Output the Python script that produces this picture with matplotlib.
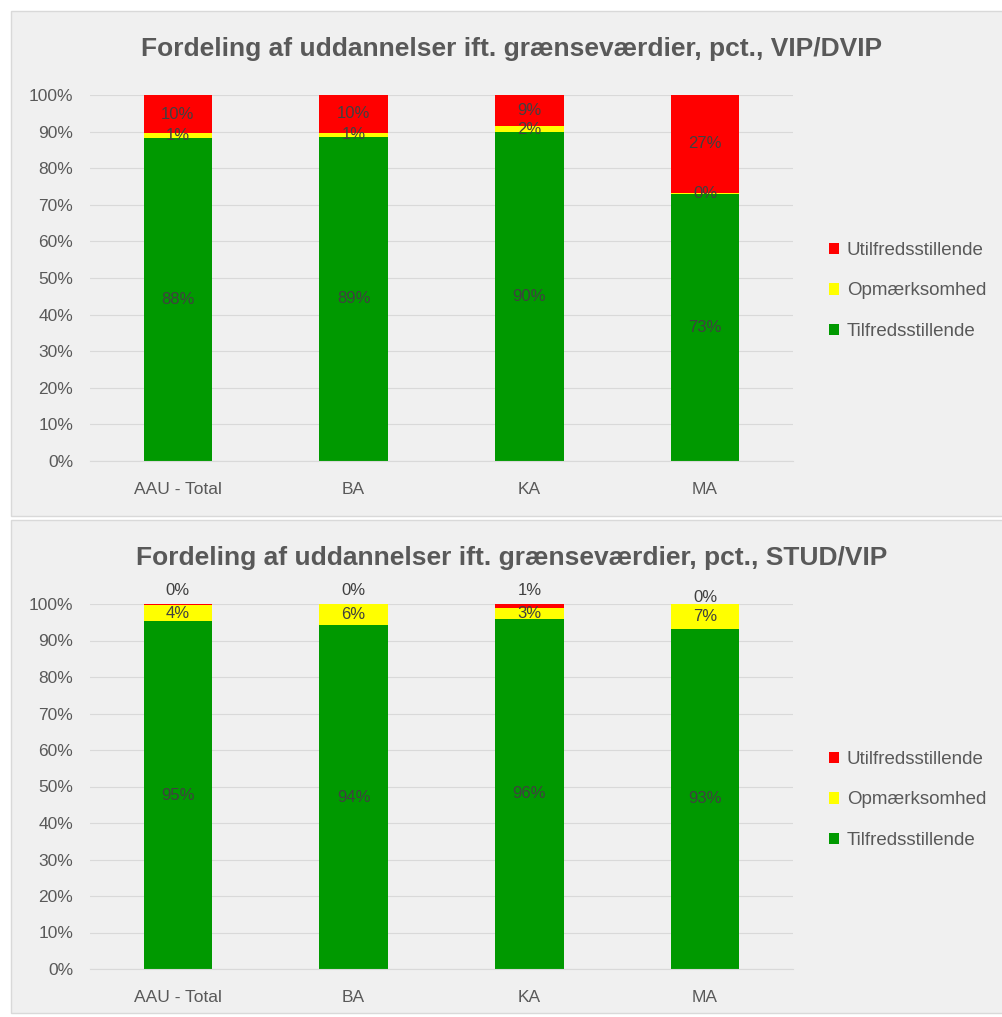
import matplotlib.pyplot as plt
from matplotlib.patches import Rectangle
import numpy as np

categories = ['AAU - Total', 'BA', 'KA', 'MA']
series = ['Tilfredsstillende', 'Opmærksomhed', 'Utilfredsstillende']
colors = ['#009900', '#FFFF00', '#FF0000']

# VIP/DVIP (pct.)
vip_green = [88.2, 88.6, 89.8, 73.0]
vip_yellow = [1.4, 1.1, 1.6, 0.3]
vip_red = [10.4, 10.3, 8.6, 26.7]

# STUD/VIP (pct.)
stud_green = [95.3, 94.2, 95.9, 93.2]
stud_yellow = [4.3, 5.8, 3.0, 6.8]
stud_red = [0.4, 0.0, 1.1, 0.0]

titles = ['Fordeling af uddannelser ift. grænseværdier, pct., VIP/DVIP',
          'Fordeling af uddannelser ift. grænseværdier, pct., STUD/VIP']

W, H = 1003, 1017
fig = plt.figure(figsize=(W / 100, H / 100), dpi=100)
fig.patch.set_facecolor('white')

txt = '#404040'
plt.rcParams['font.family'] = ['Liberation Sans', 'DejaVu Sans']

# panel boxes (pixel coords: x0, y0, x1, y1)
panels = [(11, 11, 1003, 516), (11, 520, 1003, 1013)]
for x0, y0, x1, y1 in panels:
    fig.patches.append(Rectangle((x0 / W, 1 - y1 / H), (x1 - x0) / W, (y1 - y0) / H,
                                 transform=fig.transFigure, facecolor='#F0F0F0',
                                 edgecolor='#D9D9D9', linewidth=1, zorder=-5))

axes_px = [(90, 95, 793, 461), (90, 604, 793, 969)]
title_y = [49, 558]
legend_y = [291, 800]
data = [(vip_green, vip_yellow, vip_red), (stud_green, stud_yellow, stud_red)]

x = np.arange(len(categories))
width = 0.39

for i, (l, t, r, b) in enumerate(axes_px):
    ax = fig.add_axes([l / W, 1 - b / H, (r - l) / W, (b - t) / H])
    ax.set_zorder(1)
    ax.set_facecolor('none')
    green, yellow, red = data[i]
    bottom = np.zeros(len(categories))
    handles = []
    for j, vals in enumerate([green, yellow, red]):
        vals = np.array(vals)
        bars = ax.bar(x, vals, width, bottom=bottom, color=colors[j], label=series[j], zorder=2)
        handles.append(bars)
        for k in range(len(categories)):
            cy = bottom[k] + vals[k] / 2
            lab = f'{round(vals[k])}%'
            if i == 1 and j == 2:
                off = -1 if k == 3 else 4
                ax.annotate(lab, (x[k], bottom[k] + vals[k]), xytext=(0, off),
                            textcoords='offset points', ha='center', va='bottom',
                            fontsize=12, color=txt, zorder=3)
            else:
                ax.text(x[k], cy, lab, ha='center', va='center', fontsize=12,
                        color=txt, zorder=3)
        bottom = bottom + vals
    ax.set_xlim(-0.5, 3.5)
    ax.set_ylim(0, 100)
    ax.set_yticks(np.arange(0, 101, 10))
    ax.set_yticklabels([f'{v}%' for v in range(0, 101, 10)])
    ax.set_xticks(x)
    ax.set_xticklabels(categories)
    ax.tick_params(axis='both', length=0, labelsize=12.5, labelcolor='#595959')
    ax.tick_params(axis='y', pad=12)
    ax.tick_params(axis='x', pad=15)
    ax.grid(axis='y', color='#D9D9D9', linewidth=0.8, zorder=0)
    for s in ax.spines.values():
        s.set_visible(False)
    ax.spines['bottom'].set_visible(True)
    ax.spines['bottom'].set_color('#D9D9D9')

    fig.text(512 / W, 1 - title_y[i] / H, titles[i], ha='center', va='center',
             fontsize=19, fontweight='bold', color='#595959')

    fig.legend(handles[::-1], series[::-1], loc='center left',
               bbox_to_anchor=(812 / W, 1 - legend_y[i] / H), frameon=False,
               fontsize=13.5, labelcolor='#595959', handlelength=0.55,
               handleheight=0.55, handletextpad=0.4, labelspacing=1.25)

fig.savefig('out.png', dpi=100)
